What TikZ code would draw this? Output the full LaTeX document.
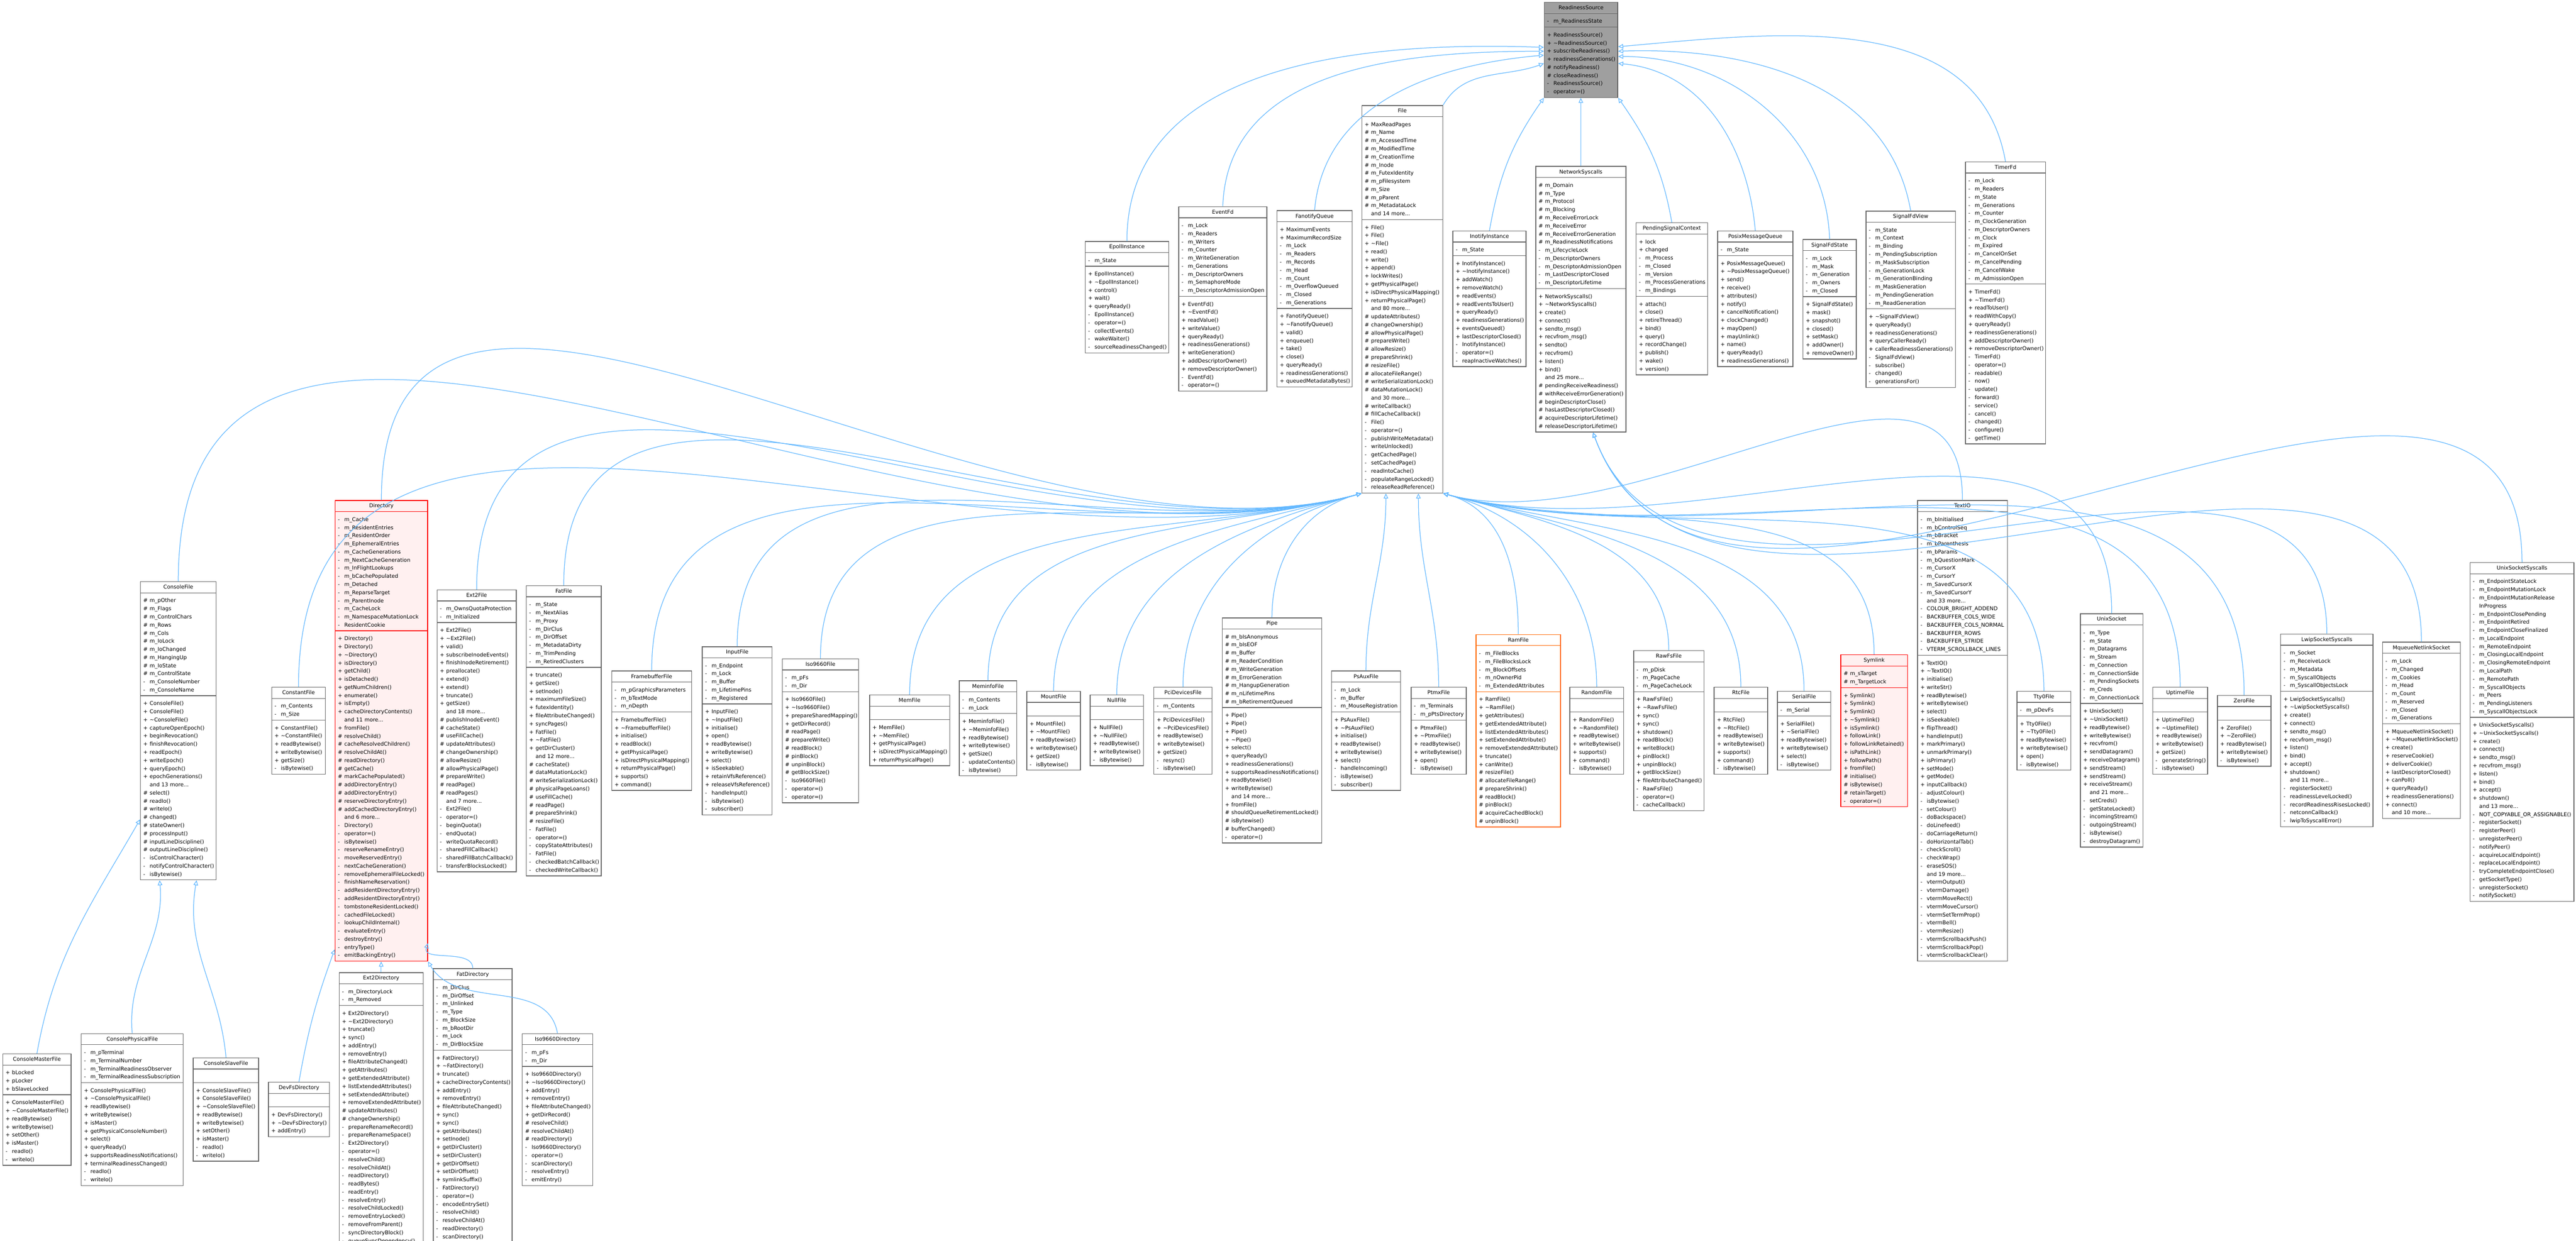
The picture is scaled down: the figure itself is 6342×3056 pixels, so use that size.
\documentclass[tikz,border=0pt]{standalone}
\usepackage{fontspec}
\setmainfont{DejaVu Sans}
\usetikzlibrary{shapes.multipart,arrows.meta,calc}
\definecolor{arrowblue}{HTML}{63B8FF}
\definecolor{boxline}{HTML}{666666}
\definecolor{redfill}{HTML}{FFF0F0}
\newcommand\Pu[1]{\par\noindent\strut\makebox[4.5pt][l]{+}#1}
\newcommand\Pp[1]{\par\noindent\strut\makebox[4.5pt][l]{\#}#1}
\newcommand\Pv[1]{\par\noindent\strut\makebox[4.5pt][l]{-}#1}
\newcommand\Mo[1]{\par\noindent\strut\makebox[4.5pt][l]{}#1}
\newcommand\Em{\par\noindent\strut}
\newcommand\cls[8]{%
  \pgfmathsetlengthmacro\tw{#4*0.2845pt-4pt}%
  \node[cls,#5,text width=\tw] (#1) at (#2,-#3)
   {\centering\strut #6\par\nodepart{two}#7\nodepart{three}#8};}
\tikzset{
  cls/.style={rectangle split,rectangle split parts=3,draw=boxline,line width=0.5pt,
    anchor=north west,inner xsep=2pt,inner ysep=0.8pt,fill=white,
    font=\fontsize{3.7}{5.69}\selectfont},
  red/.style={draw=red,fill=redfill},
  orange/.style={draw=orange!80!red},
  root/.style={fill=gray!75,draw=boxline},
  inh/.style={draw=arrowblue,line width=0.45pt,-{Triangle[open,length=3.5pt,width=3.2pt]}}
}
\begin{document}
\begin{tikzpicture}[x=0.01cm,y=0.01cm]
\useasboundingbox (0,0) rectangle (6342,-3056);
% ---------------- root ----------------
\cls{root}{3801}{5}{181}{root}{ReadinessSource}{\Pv{m\_ReadinessState}}
{\Pu{ReadinessSource()}\Pu{\textasciitilde ReadinessSource()}\Pu{subscribeReadiness()}\Pu{readinessGenerations()}\Pp{notifyReadiness()}\Pp{closeReadiness()}\Pv{ReadinessSource()}\Pv{operator=()}}
% ---------------- level 1 ----------------
\cls{epoll}{2671}{594}{205}{}{EpollInstance}{\Pv{m\_State}}
{\Pu{EpollInstance()}\Pu{\textasciitilde EpollInstance()}\Pu{control()}\Pu{wait()}\Pu{queryReady()}\Pv{EpollInstance()}\Pv{operator=()}\Pv{collectEvents()}\Pv{wakeWaiter()}\Pv{sourceReadinessChanged()}}
\cls{eventfd}{2901}{508}{217}{}{EventFd}
{\Pv{m\_Lock}\Pv{m\_Readers}\Pv{m\_Writers}\Pv{m\_Counter}\Pv{m\_WriteGeneration}\Pv{m\_Generations}\Pv{m\_DescriptorOwners}\Pv{m\_SemaphoreMode}\Pv{m\_DescriptorAdmissionOpen}}
{\Pu{EventFd()}\Pu{\textasciitilde EventFd()}\Pu{readValue()}\Pu{writeValue()}\Pu{queryReady()}\Pu{readinessGenerations()}\Pu{writeGeneration()}\Pu{addDescriptorOwner()}\Pu{removeDescriptorOwner()}\Pv{EventFd()}\Pv{operator=()}}
\cls{fanotify}{3143}{518}{185}{}{FanotifyQueue}
{\Pu{MaximumEvents}\Pu{MaximumRecordSize}\Pv{m\_Lock}\Pv{m\_Readers}\Pv{m\_Records}\Pv{m\_Head}\Pv{m\_Count}\Pv{m\_OverflowQueued}\Pv{m\_Closed}\Pv{m\_Generations}}
{\Pu{FanotifyQueue()}\Pu{\textasciitilde FanotifyQueue()}\Pu{valid()}\Pu{enqueue()}\Pu{take()}\Pu{close()}\Pu{queryReady()}\Pu{readinessGenerations()}\Pu{queuedMetadataBytes()}}
\cls{file}{3352}{259}{199}{}{File}
{\Pu{MaxReadPages}\Pp{m\_Name}\Pp{m\_AccessedTime}\Pp{m\_ModifiedTime}\Pp{m\_CreationTime}\Pp{m\_Inode}\Pp{m\_FutexIdentity}\Pp{m\_pFilesystem}\Pp{m\_Size}\Pp{m\_pParent}\Pp{m\_MetadataLock}\Mo{and 14 more...}}
{\Pu{File()}\Pu{File()}\Pu{\textasciitilde File()}\Pu{read()}\Pu{write()}\Pu{append()}\Pu{lockWrites()}\Pu{getPhysicalPage()}\Pu{isDirectPhysicalMapping()}\Pu{returnPhysicalPage()}\Mo{and 80 more...}\Pp{updateAttributes()}\Pp{changeOwnership()}\Pp{allowPhysicalPage()}\Pp{prepareWrite()}\Pp{allowResize()}\Pp{prepareShrink()}\Pp{resizeFile()}\Pp{allocateFileRange()}\Pp{writeSerializationLock()}\Pp{dataMutationLock()}\Mo{and 30 more...}\Pp{writeCallback()}\Pp{fillCacheCallback()}\Pv{File()}\Pv{operator=()}\Pv{publishWriteMetadata()}\Pv{writeUnlocked()}\Pv{getCachedPage()}\Pv{setCachedPage()}\Pv{readIntoCache()}\Pv{populateRangeLocked()}\Pv{releaseReadReference()}}
\cls{inotify}{3576}{568}{180}{}{InotifyInstance}{\Pv{m\_State}}
{\Pu{InotifyInstance()}\Pu{\textasciitilde InotifyInstance()}\Pu{addWatch()}\Pu{removeWatch()}\Pu{readEvents()}\Pu{readEventsToUser()}\Pu{queryReady()}\Pu{readinessGenerations()}\Pu{eventsQueued()}\Pu{lastDescriptorClosed()}\Pv{InotifyInstance()}\Pv{operator=()}\Pv{reapInactiveWatches()}}
\cls{net}{3780}{409}{222}{}{NetworkSyscalls}
{\Pp{m\_Domain}\Pp{m\_Type}\Pp{m\_Protocol}\Pp{m\_Blocking}\Pp{m\_ReceiveErrorLock}\Pp{m\_ReceiveError}\Pp{m\_ReceiveErrorGeneration}\Pp{m\_ReadinessNotifications}\Pv{m\_LifecycleLock}\Pv{m\_DescriptorOwners}\Pv{m\_DescriptorAdmissionOpen}\Pv{m\_LastDescriptorClosed}\Pv{m\_DescriptorLifetime}}
{\Pu{NetworkSyscalls()}\Pu{\textasciitilde NetworkSyscalls()}\Pu{create()}\Pu{connect()}\Pu{sendto\_msg()}\Pu{recvfrom\_msg()}\Pu{sendto()}\Pu{recvfrom()}\Pu{listen()}\Pu{bind()}\Mo{and 25 more...}\Pp{pendingReceiveReadiness()}\Pp{withReceiveErrorGeneration()}\Pp{beginDescriptorClose()}\Pp{hasLastDescriptorClosed()}\Pp{acquireDescriptorLifetime()}\Pp{releaseDescriptorLifetime()}}
\cls{pending}{4027}{548}{176}{}{PendingSignalContext}
{\Pu{lock}\Pu{changed}\Pv{m\_Process}\Pv{m\_Closed}\Pv{m\_Version}\Pv{m\_ProcessGenerations}\Pv{m\_Bindings}}
{\Pu{attach()}\Pu{close()}\Pu{retireThread()}\Pu{bind()}\Pu{query()}\Pu{recordChange()}\Pu{publish()}\Pu{wake()}\Pu{version()}}
\cls{posixmq}{4228}{568}{185}{}{PosixMessageQueue}{\Pv{m\_State}}
{\Pu{PosixMessageQueue()}\Pu{\textasciitilde PosixMessageQueue()}\Pu{send()}\Pu{receive()}\Pu{attributes()}\Pu{notify()}\Pu{cancelNotification()}\Pu{clockChanged()}\Pu{mayOpen()}\Pu{mayUnlink()}\Pu{name()}\Pu{queryReady()}\Pu{readinessGenerations()}}
\cls{sigstate}{4438}{589}{131}{}{SignalFdState}
{\Pv{m\_Lock}\Pv{m\_Mask}\Pv{m\_Generation}\Pv{m\_Owners}\Pv{m\_Closed}}
{\Pu{SignalFdState()}\Pu{mask()}\Pu{snapshot()}\Pu{closed()}\Pu{setMask()}\Pu{addOwner()}\Pu{removeOwner()}}
\cls{sigview}{4593}{519}{220}{}{SignalFdView}
{\Pv{m\_State}\Pv{m\_Context}\Pv{m\_Binding}\Pv{m\_PendingSubscription}\Pv{m\_MaskSubscription}\Pv{m\_GenerationLock}\Pv{m\_GenerationBinding}\Pv{m\_MaskGeneration}\Pv{m\_PendingGeneration}\Pv{m\_ReadGeneration}}
{\Pu{\textasciitilde SignalFdView()}\Pu{queryReady()}\Pu{readinessGenerations()}\Pu{queryCallerReady()}\Pu{callerReadinessGenerations()}\Pv{SignalFdView()}\Pv{subscribe()}\Pv{changed()}\Pv{generationsFor()}}
\cls{timerfd}{4838}{398}{197}{}{TimerFd}
{\Pv{m\_Lock}\Pv{m\_Readers}\Pv{m\_State}\Pv{m\_Generations}\Pv{m\_Counter}\Pv{m\_ClockGeneration}\Pv{m\_DescriptorOwners}\Pv{m\_Clock}\Pv{m\_Expired}\Pv{m\_CancelOnSet}\Pv{m\_CancelPending}\Pv{m\_CancelWake}\Pv{m\_AdmissionOpen}}
{\Pu{TimerFd()}\Pu{\textasciitilde TimerFd()}\Pu{readToUser()}\Pu{readWithCopy()}\Pu{queryReady()}\Pu{readinessGenerations()}\Pu{addDescriptorOwner()}\Pu{removeDescriptorOwner()}\Pv{TimerFd()}\Pv{operator=()}\Pv{readable()}\Pv{now()}\Pv{update()}\Pv{forward()}\Pv{service()}\Pv{cancel()}\Pv{changed()}\Pv{configure()}\Pv{getTime()}}
% ---------------- level 2 ----------------
\cls{console}{345}{1432}{186}{}{ConsoleFile}
{\Pp{m\_pOther}\Pp{m\_Flags}\Pp{m\_ControlChars}\Pp{m\_Rows}\Pp{m\_Cols}\Pp{m\_IoLock}\Pp{m\_IoChanged}\Pp{m\_HangingUp}\Pp{m\_IoState}\Pp{m\_ControlState}\Pv{m\_ConsoleNumber}\Pv{m\_ConsoleName}}
{\Pu{ConsoleFile()}\Pu{ConsoleFile()}\Pu{\textasciitilde ConsoleFile()}\Pu{captureOpenEpoch()}\Pu{beginRevocation()}\Pu{finishRevocation()}\Pu{readEpoch()}\Pu{writeEpoch()}\Pu{queryEpoch()}\Pu{epochGenerations()}\Mo{and 13 more...}\Pp{select()}\Pp{readIo()}\Pp{writeIo()}\Pp{changed()}\Pp{stateOwner()}\Pp{processInput()}\Pp{inputLineDiscipline()}\Pp{outputLineDiscipline()}\Pv{isControlCharacter()}\Pv{notifyControlCharacter()}\Pv{isBytewise()}}
\cls{constant}{668}{1692}{132}{}{ConstantFile}
{\Pv{m\_Contents}\Pv{m\_Size}}
{\Pu{ConstantFile()}\Pu{\textasciitilde ConstantFile()}\Pu{readBytewise()}\Pu{writeBytewise()}\Pu{getSize()}\Pv{isBytewise()}}
\cls{dir}{824}{1232}{228}{red}{Directory}
{\Pv{m\_Cache}\Pv{m\_ResidentEntries}\Pv{m\_ResidentOrder}\Pv{m\_EphemeralEntries}\Pv{m\_CacheGenerations}\Pv{m\_NextCacheGeneration}\Pv{m\_InFlightLookups}\Pv{m\_bCachePopulated}\Pv{m\_Detached}\Pv{m\_ReparseTarget}\Pv{m\_ParentInode}\Pv{m\_CacheLock}\Pv{m\_NamespaceMutationLock}\Pv{ResidentCookie}}
{\Pu{Directory()}\Pu{Directory()}\Pu{\textasciitilde Directory()}\Pu{isDirectory()}\Pu{getChild()}\Pu{isDetached()}\Pu{getNumChildren()}\Pu{enumerate()}\Pu{isEmpty()}\Pu{cacheDirectoryContents()}\Mo{and 11 more...}\Pu{fromFile()}\Pp{resolveChild()}\Pp{cacheResolvedChildren()}\Pp{resolveChildAt()}\Pp{readDirectory()}\Pp{getCache()}\Pp{markCachePopulated()}\Pp{addDirectoryEntry()}\Pp{addDirectoryEntry()}\Pp{reserveDirectoryEntry()}\Pp{addCachedDirectoryEntry()}\Mo{and 6 more...}\Pv{Directory()}\Pv{operator=()}\Pv{isBytewise()}\Pv{reserveRenameEntry()}\Pv{moveReservedEntry()}\Pv{nextCacheGeneration()}\Pv{removeEphemeralFileLocked()}\Pv{finishNameReservation()}\Pv{addResidentDirectoryEntry()}\Pv{addResidentDirectoryEntry()}\Pv{tombstoneResidentLocked()}\Pv{cachedFileLocked()}\Pv{lookupChildInternal()}\Pv{evaluateEntry()}\Pv{destroyEntry()}\Pv{entryType()}\Pv{emitBackingEntry()}}
\cls{ext2file}{1075}{1452}{195}{}{Ext2File}
{\Pv{m\_OwnsQuotaProtection}\Pv{m\_Initialized}}
{\Pu{Ext2File()}\Pu{\textasciitilde Ext2File()}\Pu{valid()}\Pu{subscribeInodeEvents()}\Pu{finishInodeRetirement()}\Pu{preallocate()}\Pu{extend()}\Pu{extend()}\Pu{truncate()}\Pu{getSize()}\Mo{and 18 more...}\Pp{publishInodeEvent()}\Pp{cacheState()}\Pp{useFillCache()}\Pp{updateAttributes()}\Pp{changeOwnership()}\Pp{allowResize()}\Pp{allowPhysicalPage()}\Pp{prepareWrite()}\Pp{readPage()}\Pp{readPages()}\Mo{and 7 more...}\Pv{Ext2File()}\Pv{operator=()}\Pv{beginQuota()}\Pv{endQuota()}\Pv{writeQuotaRecord()}\Pv{sharedFillCallback()}\Pv{sharedFillBatchCallback()}\Pv{transferBlocksLocked()}}
\cls{fatfile}{1295}{1442}{184}{}{FatFile}
{\Pv{m\_State}\Pv{m\_NextAlias}\Pv{m\_Proxy}\Pv{m\_DirClus}\Pv{m\_DirOffset}\Pv{m\_MetadataDirty}\Pv{m\_TrimPending}\Pv{m\_RetiredClusters}}
{\Pu{truncate()}\Pu{getSize()}\Pu{setInode()}\Pu{maximumFileSize()}\Pu{futexIdentity()}\Pu{fileAttributeChanged()}\Pu{syncPages()}\Pu{FatFile()}\Pu{\textasciitilde FatFile()}\Pu{getDirCluster()}\Mo{and 12 more...}\Pp{cacheState()}\Pp{dataMutationLock()}\Pp{writeSerializationLock()}\Pp{physicalPageLoans()}\Pp{useFillCache()}\Pp{readPage()}\Pp{prepareShrink()}\Pp{resizeFile()}\Pv{FatFile()}\Pv{operator=()}\Pv{copyStateAttributes()}\Pv{FatFile()}\Pv{checkedBatchCallback()}\Pv{checkedWriteCallback()}}
\cls{fb}{1505}{1652}{197}{}{FramebufferFile}
{\Pv{m\_pGraphicsParameters}\Pv{m\_bTextMode}\Pv{m\_nDepth}}
{\Pu{FramebufferFile()}\Pu{\textasciitilde FramebufferFile()}\Pu{initialise()}\Pu{readBlock()}\Pu{getPhysicalPage()}\Pu{isDirectPhysicalMapping()}\Pu{returnPhysicalPage()}\Pu{supports()}\Pu{command()}}
\cls{input}{1728}{1592}{172}{}{InputFile}
{\Pv{m\_Endpoint}\Pv{m\_Lock}\Pv{m\_Buffer}\Pv{m\_LifetimePins}\Pv{m\_Registered}}
{\Pu{InputFile()}\Pu{\textasciitilde InputFile()}\Pu{initialise()}\Pu{open()}\Pu{readBytewise()}\Pu{writeBytewise()}\Pu{select()}\Pu{isSeekable()}\Pu{retainVfsReference()}\Pu{releaseVfsReference()}\Pv{handleInput()}\Pv{isBytewise()}\Pv{subscriber()}}
\cls{iso}{1925}{1622}{188}{}{Iso9660File}
{\Pv{m\_pFs}\Pv{m\_Dir}}
{\Pu{Iso9660File()}\Pu{\textasciitilde Iso9660File()}\Pu{prepareSharedMapping()}\Pu{getDirRecord()}\Pp{readPage()}\Pp{prepareWrite()}\Pp{readBlock()}\Pp{pinBlock()}\Pp{unpinBlock()}\Pp{getBlockSize()}\Pv{Iso9660File()}\Pv{operator=()}\Pv{operator=()}}
\cls{mem}{2140}{1711}{197}{}{MemFile}{\Em}
{\Pu{MemFile()}\Pu{\textasciitilde MemFile()}\Pu{getPhysicalPage()}\Pu{isDirectPhysicalMapping()}\Pu{returnPhysicalPage()}}
\cls{meminfo}{2361}{1676}{141}{}{MeminfoFile}
{\Pv{m\_Contents}\Pv{m\_Lock}}
{\Pu{MeminfoFile()}\Pu{\textasciitilde MeminfoFile()}\Pu{readBytewise()}\Pu{writeBytewise()}\Pu{getSize()}\Pv{updateContents()}\Pv{isBytewise()}}
\cls{mount}{2527}{1702}{132}{}{MountFile}{\Em}
{\Pu{MountFile()}\Pu{\textasciitilde MountFile()}\Pu{readBytewise()}\Pu{writeBytewise()}\Pu{getSize()}\Pv{isBytewise()}}
\cls{null}{2683}{1711}{131}{}{NullFile}{\Em}
{\Pu{NullFile()}\Pu{\textasciitilde NullFile()}\Pu{readBytewise()}\Pu{writeBytewise()}\Pv{isBytewise()}}
\cls{pci}{2840}{1692}{143}{}{PciDevicesFile}
{\Pv{m\_Contents}}
{\Pu{PciDevicesFile()}\Pu{\textasciitilde PciDevicesFile()}\Pu{readBytewise()}\Pu{writeBytewise()}\Pu{getSize()}\Pv{resync()}\Pv{isBytewise()}}
\cls{pipe}{3008}{1521}{245}{}{Pipe}
{\Pp{m\_bIsAnonymous}\Pp{m\_bIsEOF}\Pp{m\_Buffer}\Pp{m\_ReaderCondition}\Pp{m\_WriteGeneration}\Pp{m\_ErrorGeneration}\Pp{m\_HangupGeneration}\Pp{m\_nLifetimePins}\Pp{m\_bRetirementQueued}}
{\Pu{Pipe()}\Pu{Pipe()}\Pu{Pipe()}\Pu{\textasciitilde Pipe()}\Pu{select()}\Pu{queryReady()}\Pu{readinessGenerations()}\Pu{supportsReadinessNotifications()}\Pu{readBytewise()}\Pu{writeBytewise()}\Mo{and 14 more...}\Pu{fromFile()}\Pp{shouldQueueRetirementLocked()}\Pp{isBytewise()}\Pp{bufferChanged()}\Pv{operator=()}}
\cls{psaux}{3277}{1652}{170}{}{PsAuxFile}
{\Pv{m\_Lock}\Pv{m\_Buffer}\Pv{m\_MouseRegistration}}
{\Pu{PsAuxFile()}\Pu{\textasciitilde PsAuxFile()}\Pu{initialise()}\Pu{readBytewise()}\Pu{writeBytewise()}\Pu{select()}\Pv{handleIncoming()}\Pv{isBytewise()}\Pv{subscriber()}}
\cls{ptmx}{3473}{1692}{136}{}{PtmxFile}
{\Pv{m\_Terminals}\Pv{m\_pPtsDirectory}}
{\Pu{PtmxFile()}\Pu{\textasciitilde PtmxFile()}\Pu{readBytewise()}\Pu{writeBytewise()}\Pu{open()}\Pv{isBytewise()}}
\cls{ram}{3633}{1562}{208}{orange}{RamFile}
{\Pv{m\_FileBlocks}\Pv{m\_FileBlocksLock}\Pv{m\_BlockOffsets}\Pv{m\_nOwnerPid}\Pv{m\_ExtendedAttributes}}
{\Pu{RamFile()}\Pu{\textasciitilde RamFile()}\Pu{getAttributes()}\Pu{getExtendedAttribute()}\Pu{listExtendedAttributes()}\Pu{setExtendedAttribute()}\Pu{removeExtendedAttribute()}\Pu{truncate()}\Pu{canWrite()}\Pp{resizeFile()}\Pp{allocateFileRange()}\Pp{prepareShrink()}\Pp{readBlock()}\Pp{pinBlock()}\Pp{acquireCachedBlock()}\Pp{unpinBlock()}}
\cls{random}{3864}{1692}{132}{}{RandomFile}{\Em}
{\Pu{RandomFile()}\Pu{\textasciitilde RandomFile()}\Pu{readBytewise()}\Pu{writeBytewise()}\Pu{supports()}\Pu{command()}\Pv{isBytewise()}}
\cls{rawfs}{4021}{1602}{173}{}{RawFsFile}
{\Pv{m\_pDisk}\Pv{m\_PageCache}\Pv{m\_PageCacheLock}}
{\Pu{RawFsFile()}\Pu{\textasciitilde RawFsFile()}\Pu{sync()}\Pu{sync()}\Pu{shutdown()}\Pu{readBlock()}\Pu{writeBlock()}\Pu{pinBlock()}\Pu{unpinBlock()}\Pu{getBlockSize()}\Pu{fileAttributeChanged()}\Pv{RawFsFile()}\Pv{operator=()}\Pv{cacheCallback()}}
\cls{rtc}{4219}{1692}{132}{}{RtcFile}{\Em}
{\Pu{RtcFile()}\Pu{\textasciitilde RtcFile()}\Pu{readBytewise()}\Pu{writeBytewise()}\Pu{supports()}\Pu{command()}\Pv{isBytewise()}}
\cls{serial}{4375}{1702}{131}{}{SerialFile}
{\Pv{m\_Serial}}
{\Pu{SerialFile()}\Pu{\textasciitilde SerialFile()}\Pu{readBytewise()}\Pu{writeBytewise()}\Pu{select()}\Pv{isBytewise()}}
\cls{symlink}{4531}{1612}{164}{red}{Symlink}
{\Pp{m\_sTarget}\Pp{m\_TargetLock}}
{\Pu{Symlink()}\Pu{Symlink()}\Pu{Symlink()}\Pu{\textasciitilde Symlink()}\Pu{isSymlink()}\Pu{followLink()}\Pu{followLinkRetained()}\Pu{isPathLink()}\Pu{followPath()}\Pu{fromFile()}\Pp{initialise()}\Pp{isBytewise()}\Pp{retainTarget()}\Pv{operator=()}}
\cls{textio}{4720}{1232}{221}{}{TextIO}
{\Pv{m\_bInitialised}\Pv{m\_bControlSeq}\Pv{m\_bBracket}\Pv{m\_bParenthesis}\Pv{m\_bParams}\Pv{m\_bQuestionMark}\Pv{m\_CursorX}\Pv{m\_CursorY}\Pv{m\_SavedCursorX}\Pv{m\_SavedCursorY}\Mo{and 33 more...}\Pv{COLOUR\_BRIGHT\_ADDEND}\Pv{BACKBUFFER\_COLS\_WIDE}\Pv{BACKBUFFER\_COLS\_NORMAL}\Pv{BACKBUFFER\_ROWS}\Pv{BACKBUFFER\_STRIDE}\Pv{VTERM\_SCROLLBACK\_LINES}}
{\Pu{TextIO()}\Pu{\textasciitilde TextIO()}\Pu{initialise()}\Pu{writeStr()}\Pu{readBytewise()}\Pu{writeBytewise()}\Pu{select()}\Pu{isSeekable()}\Pu{flipThread()}\Pu{handleInput()}\Pu{markPrimary()}\Pu{unmarkPrimary()}\Pu{isPrimary()}\Pu{setMode()}\Pu{getMode()}\Pu{inputCallback()}\Pv{adjustColour()}\Pv{isBytewise()}\Pv{setColour()}\Pv{doBackspace()}\Pv{doLinefeed()}\Pv{doCarriageReturn()}\Pv{doHorizontalTab()}\Pv{checkScroll()}\Pv{checkWrap()}\Pv{eraseSOS()}\Mo{and 19 more...}\Pv{vtermOutput()}\Pv{vtermDamage()}\Pv{vtermMoveRect()}\Pv{vtermMoveCursor()}\Pv{vtermSetTermProp()}\Pv{vtermBell()}\Pv{vtermResize()}\Pv{vtermScrollbackPush()}\Pv{vtermScrollbackPop()}\Pv{vtermScrollbackClear()}}
\cls{tty0}{4965}{1702}{132}{}{Tty0File}
{\Pv{m\_pDevFs}}
{\Pu{Tty0File()}\Pu{\textasciitilde Tty0File()}\Pu{readBytewise()}\Pu{writeBytewise()}\Pu{open()}\Pv{isBytewise()}}
\cls{unixsock}{5121}{1511}{154}{}{UnixSocket}
{\Pv{m\_Type}\Pv{m\_State}\Pv{m\_Datagrams}\Pv{m\_Stream}\Pv{m\_Connection}\Pv{m\_ConnectionSide}\Pv{m\_PendingSockets}\Pv{m\_Creds}\Pv{m\_ConnectionLock}}
{\Pu{UnixSocket()}\Pu{\textasciitilde UnixSocket()}\Pu{readBytewise()}\Pu{writeBytewise()}\Pu{recvfrom()}\Pu{sendDatagram()}\Pu{receiveDatagram()}\Pu{sendStream()}\Pu{sendStream()}\Pu{receiveStream()}\Mo{and 21 more...}\Pv{setCreds()}\Pv{getStateLocked()}\Pv{incomingStream()}\Pv{outgoingStream()}\Pv{isBytewise()}\Pv{destroyDatagram()}}
\cls{uptime}{5299}{1692}{135}{}{UptimeFile}{\Em}
{\Pu{UptimeFile()}\Pu{\textasciitilde UptimeFile()}\Pu{readBytewise()}\Pu{writeBytewise()}\Pu{getSize()}\Pv{generateString()}\Pv{isBytewise()}}
\cls{zero}{5458}{1712}{132}{}{ZeroFile}{\Em}
{\Pu{ZeroFile()}\Pu{\textasciitilde ZeroFile()}\Pu{readBytewise()}\Pu{writeBytewise()}\Pv{isBytewise()}}
\cls{lwip}{5614}{1561}{227}{}{LwipSocketSyscalls}
{\Pv{m\_Socket}\Pv{m\_ReceiveLock}\Pv{m\_Metadata}\Pv{m\_SyscallObjects}\Pv{m\_SyscallObjectsLock}}
{\Pu{LwipSocketSyscalls()}\Pu{\textasciitilde LwipSocketSyscalls()}\Pu{create()}\Pu{connect()}\Pu{sendto\_msg()}\Pu{recvfrom\_msg()}\Pu{listen()}\Pu{bind()}\Pu{accept()}\Pu{shutdown()}\Mo{and 11 more...}\Pv{registerSocket()}\Pv{readinessLevelLocked()}\Pv{recordReadinessRisesLocked()}\Pv{netconnCallback()}\Pv{lwipToSyscallError()}}
\cls{mqueue}{5865}{1581}{191}{}{MqueueNetlinkSocket}
{\Pv{m\_Lock}\Pv{m\_Changed}\Pv{m\_Cookies}\Pv{m\_Head}\Pv{m\_Count}\Pv{m\_Reserved}\Pv{m\_Closed}\Pv{m\_Generations}}
{\Pu{MqueueNetlinkSocket()}\Pu{\textasciitilde MqueueNetlinkSocket()}\Pu{create()}\Pu{reserveCookie()}\Pu{deliverCookie()}\Pu{lastDescriptorClosed()}\Pu{canPoll()}\Pu{queryReady()}\Pu{readinessGenerations()}\Pu{connect()}\Mo{and 10 more...}}
\cls{unixsys}{6080}{1385}{256}{}{UnixSocketSyscalls}
{\Pv{m\_EndpointStateLock}\Pv{m\_EndpointMutationLock}\Pv{m\_EndpointMutationRelease}\Mo{InProgress}\Pv{m\_EndpointClosePending}\Pv{m\_EndpointRetired}\Pv{m\_EndpointCloseFinalized}\Pv{m\_LocalEndpoint}\Pv{m\_RemoteEndpoint}\Pv{m\_ClosingLocalEndpoint}\Pv{m\_ClosingRemoteEndpoint}\Pv{m\_LocalPath}\Pv{m\_RemotePath}\Pv{m\_SyscallObjects}\Pv{m\_Peers}\Pv{m\_PendingListeners}\Pv{m\_SyscallObjectsLock}}
{\Pu{UnixSocketSyscalls()}\Pu{\textasciitilde UnixSocketSyscalls()}\Pu{create()}\Pu{connect()}\Pu{sendto\_msg()}\Pu{recvfrom\_msg()}\Pu{listen()}\Pu{bind()}\Pu{accept()}\Pu{shutdown()}\Mo{and 13 more...}\Pv{NOT\_COPYABLE\_OR\_ASSIGNABLE()}\Pv{registerSocket()}\Pv{registerPeer()}\Pv{unregisterPeer()}\Pv{notifyPeer()}\Pv{acquireLocalEndpoint()}\Pv{replaceLocalEndpoint()}\Pv{tryCompleteEndpointClose()}\Pv{getSocketType()}\Pv{unregisterSocket()}\Pv{notifySocket()}}
% ---------------- level 3 ----------------
\cls{cmaster}{6}{2595}{168}{}{ConsoleMasterFile}
{\Pu{bLocked}\Pu{pLocker}\Pu{bSlaveLocked}}
{\Pu{ConsoleMasterFile()}\Pu{\textasciitilde ConsoleMasterFile()}\Pu{readBytewise()}\Pu{writeBytewise()}\Pu{setOther()}\Pu{isMaster()}\Pv{readIo()}\Pv{writeIo()}}
\cls{cphys}{199}{2545}{251}{}{ConsolePhysicalFile}
{\Pv{m\_pTerminal}\Pv{m\_TerminalNumber}\Pv{m\_TerminalReadinessObserver}\Pv{m\_TerminalReadinessSubscription}}
{\Pu{ConsolePhysicalFile()}\Pu{\textasciitilde ConsolePhysicalFile()}\Pu{readBytewise()}\Pu{writeBytewise()}\Pu{isMaster()}\Pu{getPhysicalConsoleNumber()}\Pu{select()}\Pu{queryReady()}\Pu{supportsReadinessNotifications()}\Pu{terminalReadinessChanged()}\Pv{readIo()}\Pv{writeIo()}}
\cls{cslave}{475}{2605}{161}{}{ConsoleSlaveFile}{\Em}
{\Pu{ConsoleSlaveFile()}\Pu{ConsoleSlaveFile()}\Pu{\textasciitilde ConsoleSlaveFile()}\Pu{readBytewise()}\Pu{writeBytewise()}\Pu{setOther()}\Pu{isMaster()}\Pv{readIo()}\Pv{writeIo()}}
\cls{devfs}{660}{2665}{150}{}{DevFsDirectory}{\Em}
{\Pu{DevFsDirectory()}\Pu{\textasciitilde DevFsDirectory()}\Pu{addEntry()}}
\cls{ext2dir}{834}{2395}{207}{}{Ext2Directory}
{\Pv{m\_DirectoryLock}\Pv{m\_Removed}}
{\Pu{Ext2Directory()}\Pu{\textasciitilde Ext2Directory()}\Pu{truncate()}\Pu{sync()}\Pu{addEntry()}\Pu{removeEntry()}\Pu{fileAttributeChanged()}\Pu{getAttributes()}\Pu{getExtendedAttribute()}\Pu{listExtendedAttributes()}\Pu{setExtendedAttribute()}\Pu{removeExtendedAttribute()}\Pp{updateAttributes()}\Pp{changeOwnership()}\Pv{prepareRenameRecord()}\Pv{prepareRenameSpace()}\Pv{Ext2Directory()}\Pv{operator=()}\Pv{resolveChild()}\Pv{resolveChildAt()}\Pv{readDirectory()}\Pv{readBytes()}\Pv{readEntry()}\Pv{resolveEntry()}\Pv{resolveChildLocked()}\Pv{removeEntryLocked()}\Pv{removeFromParent()}\Pv{syncDirectoryBlock()}\Pv{queueSyncDependency()}}
\cls{fatdir}{1066}{2385}{194}{}{FatDirectory}
{\Pv{m\_DirClus}\Pv{m\_DirOffset}\Pv{m\_Unlinked}\Pv{m\_Type}\Pv{m\_BlockSize}\Pv{m\_bRootDir}\Pv{m\_Lock}\Pv{m\_DirBlockSize}}
{\Pu{FatDirectory()}\Pu{\textasciitilde FatDirectory()}\Pu{truncate()}\Pu{cacheDirectoryContents()}\Pu{addEntry()}\Pu{removeEntry()}\Pu{fileAttributeChanged()}\Pu{sync()}\Pu{sync()}\Pu{getAttributes()}\Pu{setInode()}\Pu{getDirCluster()}\Pu{setDirCluster()}\Pu{getDirOffset()}\Pu{setDirOffset()}\Pu{symlinkSuffix()}\Pv{FatDirectory()}\Pv{operator=()}\Pv{encodeEntrySet()}\Pv{resolveChild()}\Pv{resolveChildAt()}\Pv{readDirectory()}\Pv{scanDirectory()}\Pv{materialize()}}
\cls{isodir}{1285}{2545}{173}{}{Iso9660Directory}
{\Pv{m\_pFs}\Pv{m\_Dir}}
{\Pu{Iso9660Directory()}\Pu{\textasciitilde Iso9660Directory()}\Pu{addEntry()}\Pu{removeEntry()}\Pu{fileAttributeChanged()}\Pu{getDirRecord()}\Pp{resolveChild()}\Pp{resolveChildAt()}\Pp{readDirectory()}\Pv{Iso9660Directory()}\Pv{operator=()}\Pv{scanDirectory()}\Pv{resolveEntry()}\Pv{emitEntry()}}
% ---------------- connectors ----------------
\draw[inh] (epoll.north) to[out=90,in=178] (root.176);
\draw[inh] (eventfd.north) to[out=88,in=180] (root.182);
\draw[inh] (fanotify.north) to[out=85,in=185] (root.188);
\draw[inh] (file.north east) to[out=60,in=200] (root.200);
\draw[inh] (inotify.north) to[out=80,in=235] (root.south west);
\draw[inh] (net.north) -- (net.north |- root.south);
\draw[inh] (pending.north) to[out=100,in=-55] (root.south east);
\draw[inh] (posixmq.north) to[out=95,in=-5] (root.-20);
\draw[inh] (sigstate.north) to[out=92,in=0] (root.-10);
\draw[inh] (sigview.north) to[out=100,in=2] (root.-2);
\draw[inh] (timerfd.north) to[out=100,in=5] (root.5);
\foreach \c in {console,constant,dir,ext2file,fatfile,fb,input,iso,mem,meminfo,mount,null,pci,pipe}
  \draw[inh] (\c.north) to[out=90,in=195] (file.south west);
\draw[inh] (psaux.north) to[out=90,in=-90] ($(file.south west)+(60,0)$);
\draw[inh] (ptmx.north) to[out=90,in=-90] ($(file.south west)+(140,0)$);
\foreach \c in {ram,random,rawfs,rtc,serial,symlink,textio,tty0,unixsock,uptime,zero}
  \draw[inh] (\c.north) to[out=90,in=-15] (file.south east);
\foreach \c in {lwip,mqueue,unixsys}
  \draw[inh] (\c.north) to[out=90,in=-70] ($(net.south)+(30,0)$);
\draw[inh] (cmaster.north) to[out=80,in=-120] ($(console.south west)+(0,150)$);
\draw[inh] (cphys.north) to[out=95,in=-85] ($(console.south west)+(48,0)$);
\draw[inh] (cslave.north) to[out=95,in=-100] ($(console.south west)+(139,0)$);
\draw[inh] (devfs.north) to[out=80,in=-110] ($(dir.south west)+(0,30)$);
\draw[inh] (ext2dir.north) -- (ext2dir.north |- dir.south);
\draw[inh] (fatdir.north) to[out=90,in=-110] ($(dir.south east)+(0,45)$);
\draw[inh] (isodir.north) to[out=100,in=-60] (dir.south east);
\end{tikzpicture}
\end{document}
